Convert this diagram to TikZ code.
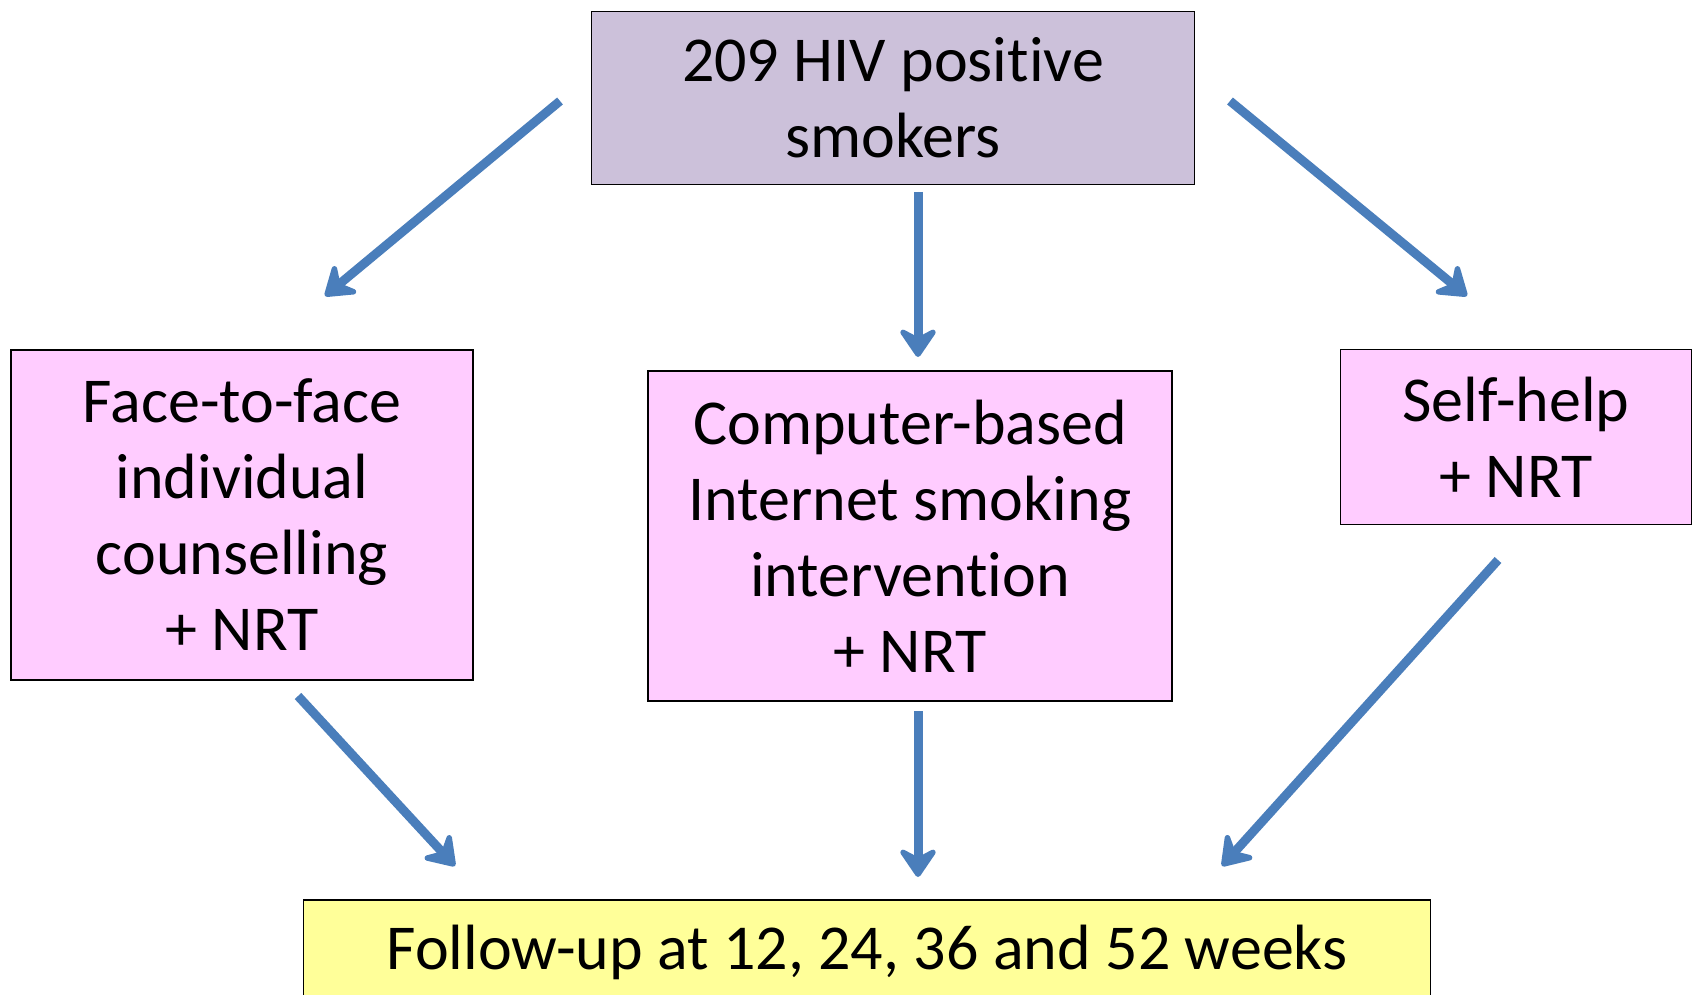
\documentclass[tikz,border=0pt]{standalone}
\usepackage{fontspec}
\setmainfont{Carlito}[Ligatures=NoCommon]
\usepackage{tikz}
\usetikzlibrary{arrows.meta}

\definecolor{arrowblue}{HTML}{4A7EBB}
\definecolor{lilac}{HTML}{CCC1DA}
\definecolor{pinkfill}{HTML}{FFCCFF}
\definecolor{yellowfill}{HTML}{FFFF99}

\begin{document}
\begin{tikzpicture}[
  x=1pt,y=-1pt,
  box/.style={draw,line width=1.5pt,align=center,inner sep=0pt,
    font=\fontsize{64}{76}\selectfont},
  arrow/.style={-{Stealth[length=34pt,width=46pt,inset=12pt,round]},
    line width=9pt,draw=arrowblue,fill=arrowblue}
]
  \clip (0,0) rectangle (1698,995);
  % boxes
  \node[box,fill=lilac,minimum width=603pt,minimum height=173pt] (smokers) at (893,98) {209 HIV positive\\smokers};
  \node[box,fill=pinkfill,minimum width=462pt,minimum height=330pt] (face) at (242,515) {Face-to-face\\individual\\counselling\\+ NRT};
  \node[box,fill=pinkfill,minimum width=524pt,minimum height=330pt] (computer) at (910,536) {Computer-based\\Internet smoking\\intervention\\+ NRT};
  \node[box,fill=pinkfill,minimum width=351pt,minimum height=175pt] (selfhelp) at (1516,437) {Self-help\\+ NRT};
  \node[box,fill=yellowfill,minimum width=1127pt,minimum height=104pt] (followup) at (867,952) {Follow-up at 12, 24, 36 and 52 weeks};
  % arrow ends
  \coordinate (a1s) at (560,101);  \coordinate (a1e) at (325,296);
  \coordinate (a2s) at (918,192);  \coordinate (a2e) at (918,357);
  \coordinate (a3s) at (1230,101); \coordinate (a3e) at (1467,296);
  \coordinate (b1s) at (298,696);  \coordinate (b1e) at (455,866);
  \coordinate (b2s) at (918,711);  \coordinate (b2e) at (918,877);
  \coordinate (b3s) at (1498,560); \coordinate (b3e) at (1222,866);
  % arrows
  \draw[arrow] (a1s) -- (a1e);
  \draw[arrow] (a2s) -- (a2e);
  \draw[arrow] (a3s) -- (a3e);
  \draw[arrow] (b1s) -- (b1e);
  \draw[arrow] (b2s) -- (b2e);
  \draw[arrow] (b3s) -- (b3e);
\end{tikzpicture}
\end{document}
